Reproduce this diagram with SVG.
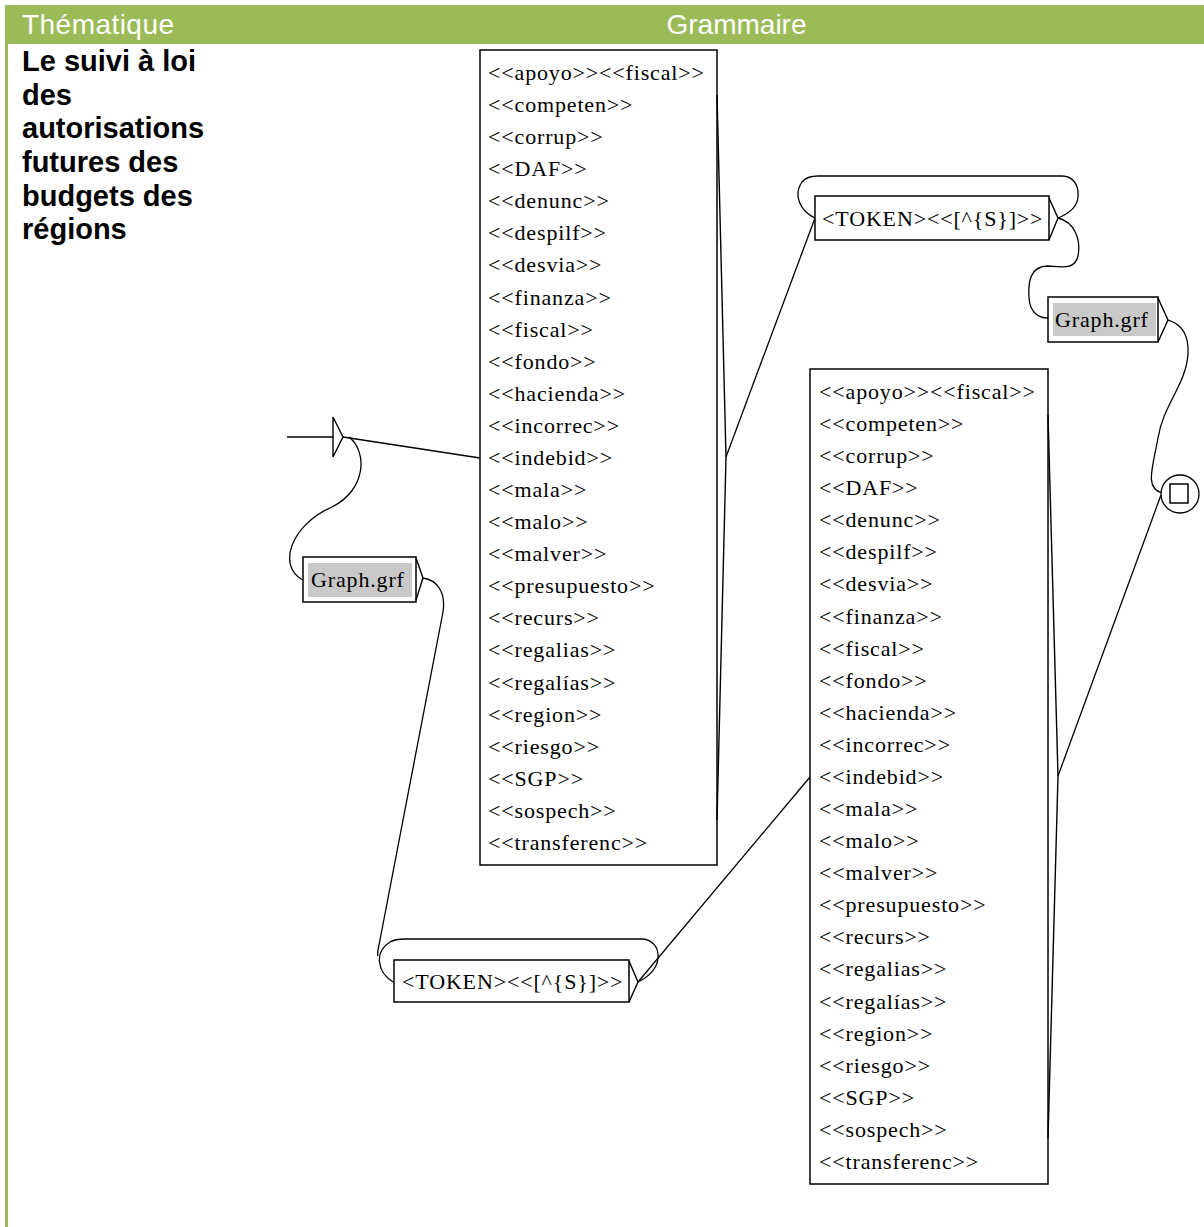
<svg xmlns="http://www.w3.org/2000/svg" width="1204" height="1227" viewBox="0 0 1204 1227">
  <style>
    .hdr { font-family: "Liberation Sans", Arial, sans-serif; font-size: 28px; fill: #ffffff; }
    .theme { font-family: "Liberation Sans", Arial, sans-serif; font-size: 29px; font-weight: bold; fill: #000000; }
    .lbl { font-family: "Liberation Serif", "Times New Roman", serif; font-size: 22px; letter-spacing: 0.85px; fill: #000000; }
    .box { fill: #ffffff; stroke: #000000; stroke-width: 1.5; }
    .sub { fill: #c9c9c9; stroke: none; }
    .out { fill: none; stroke: #000000; stroke-width: 1.4; stroke-linejoin: miter; }
    .edge { fill: none; stroke: #000000; stroke-width: 1.3; }
  </style>

  <!-- table frame -->
  <g id="table">
    <rect x="5" y="5" width="1199" height="39" fill="#9bbb59"/>
    <rect x="5" y="44" width="3" height="1183" fill="#9bbb59"/>
    <text class="hdr" x="22" y="34" textLength="152">Thématique</text>
    <text class="hdr" x="736.5" y="34" text-anchor="middle">Grammaire</text>
    <text class="theme" x="22">
      <tspan x="22" y="71">Le suivi à loi</tspan>
      <tspan x="22" y="104.5">des</tspan>
      <tspan x="22" y="138">autorisations</tspan>
      <tspan x="22" y="172">futures des</tspan>
      <tspan x="22" y="205.5">budgets des</tspan>
      <tspan x="22" y="239">régions</tspan>
    </text>
  </g>

  <!-- transitions -->
  <g id="connectors">
    <!-- initial state to first list -->
    <line class="edge" x1="343" y1="437" x2="480" y2="458"/>
    <!-- initial state loop to left Graph.grf -->
    <path class="edge" d="M349,437 C368,452 366,490 332,507 C292,524 276,566 303,580"/>
    <!-- left Graph.grf to lower TOKEN -->
    <path class="edge" d="M423,578 C437,580 446,592 443,612 L379,945 C378,950 377,953 378,956"/>
    <!-- lower TOKEN self loop -->
    <path class="edge" d="M393,982 C377,972 374,952 390,942 C395,939 400,939 405,939 L641,939 C652,939 659,947 658,958 C657,970 648,977 638,982"/>
    <!-- lower TOKEN to second list -->
    <line class="edge" x1="638" y1="982" x2="810" y2="777"/>
    <!-- first list to upper TOKEN -->
    <line class="edge" x1="726" y1="457" x2="815" y2="218"/>
    <!-- upper TOKEN self loop -->
    <path class="edge" d="M815,218 C800,211 793,195 802,182 C806,177 811,176 818,176 L1062,176 C1073,176 1079,185 1078,197 C1077,208 1068,214 1058,218"/>
    <!-- upper TOKEN to right Graph.grf -->
    <path class="edge" d="M1058,218 C1075,222 1081,240 1078,256 C1075,270 1062,267 1048,266 C1030,266 1028,282 1029,298 C1030,312 1038,318 1048,318"/>
    <!-- right Graph.grf to final state -->
    <path class="edge" d="M1168,320 C1182,324 1189,336 1188,354 C1186,385 1163,405 1158,438 C1152,470 1145,488 1162,493"/>
    <!-- second list to final state -->
    <line class="edge" x1="1058" y1="776" x2="1161" y2="495"/>
  </g>

  <!-- initial state -->
  <g id="initial">
    <line class="edge" x1="287" y1="437" x2="333" y2="437"/>
    <path class="out" d="M333,417 L343,437 L333,457 Z"/>
  </g>

  <!-- first list of lexical masks -->
  <g id="list1">
    <rect class="box" x="480" y="50" width="237" height="815"/>
    <path class="out" d="M717,95 L726,457 L717,820"/>
    <text class="lbl">
      <tspan x="488" y="80">&lt;&lt;apoyo&gt;&gt;&lt;&lt;fiscal&gt;&gt;</tspan>
      <tspan x="488" dy="32.08">&lt;&lt;competen&gt;&gt;</tspan>
      <tspan x="488" dy="32.08">&lt;&lt;corrup&gt;&gt;</tspan>
      <tspan x="488" dy="32.08">&lt;&lt;DAF&gt;&gt;</tspan>
      <tspan x="488" dy="32.08">&lt;&lt;denunc&gt;&gt;</tspan>
      <tspan x="488" dy="32.08">&lt;&lt;despilf&gt;&gt;</tspan>
      <tspan x="488" dy="32.08">&lt;&lt;desvia&gt;&gt;</tspan>
      <tspan x="488" dy="32.08">&lt;&lt;finanza&gt;&gt;</tspan>
      <tspan x="488" dy="32.08">&lt;&lt;fiscal&gt;&gt;</tspan>
      <tspan x="488" dy="32.08">&lt;&lt;fondo&gt;&gt;</tspan>
      <tspan x="488" dy="32.08">&lt;&lt;hacienda&gt;&gt;</tspan>
      <tspan x="488" dy="32.08">&lt;&lt;incorrec&gt;&gt;</tspan>
      <tspan x="488" dy="32.08">&lt;&lt;indebid&gt;&gt;</tspan>
      <tspan x="488" dy="32.08">&lt;&lt;mala&gt;&gt;</tspan>
      <tspan x="488" dy="32.08">&lt;&lt;malo&gt;&gt;</tspan>
      <tspan x="488" dy="32.08">&lt;&lt;malver&gt;&gt;</tspan>
      <tspan x="488" dy="32.08">&lt;&lt;presupuesto&gt;&gt;</tspan>
      <tspan x="488" dy="32.08">&lt;&lt;recurs&gt;&gt;</tspan>
      <tspan x="488" dy="32.08">&lt;&lt;regalias&gt;&gt;</tspan>
      <tspan x="488" dy="32.08">&lt;&lt;regalías&gt;&gt;</tspan>
      <tspan x="488" dy="32.08">&lt;&lt;region&gt;&gt;</tspan>
      <tspan x="488" dy="32.08">&lt;&lt;riesgo&gt;&gt;</tspan>
      <tspan x="488" dy="32.08">&lt;&lt;SGP&gt;&gt;</tspan>
      <tspan x="488" dy="32.08">&lt;&lt;sospech&gt;&gt;</tspan>
      <tspan x="488" dy="32.08">&lt;&lt;transferenc&gt;&gt;</tspan>
    </text>
  </g>

  <!-- left subgraph call -->
  <g id="graph-left">
    <rect class="box" x="303" y="557" width="113" height="45"/>
    <rect class="sub" x="308" y="563" width="104" height="34"/>
    <path class="out" d="M416,558 L423,578 L416,600"/>
    <text class="lbl" x="311" y="587">Graph.grf</text>
  </g>

  <!-- lower token box -->
  <g id="token-lower">
    <rect class="box" x="394" y="960" width="235" height="42"/>
    <path class="out" d="M629,961 L638,982 L629,1002"/>
    <text class="lbl" x="402" y="989">&lt;TOKEN&gt;&lt;&lt;[^{S}]&gt;&gt;</text>
  </g>

  <!-- upper token box -->
  <g id="token-upper">
    <rect class="box" x="815" y="196" width="234" height="44"/>
    <path class="out" d="M1049,198 L1058,218 L1049,240"/>
    <text class="lbl" x="822" y="226">&lt;TOKEN&gt;&lt;&lt;[^{S}]&gt;&gt;</text>
  </g>

  <!-- right subgraph call -->
  <g id="graph-right">
    <rect class="box" x="1048" y="297" width="110" height="45"/>
    <rect class="sub" x="1053" y="303" width="103" height="33"/>
    <path class="out" d="M1158,298 L1168,320 L1158,342"/>
    <text class="lbl" x="1055" y="327">Graph.grf</text>
  </g>

  <!-- second list of lexical masks -->
  <g id="list2">
    <rect class="box" x="810" y="369" width="238" height="815"/>
    <path class="out" d="M1048,415 L1058,776 L1048,1138"/>
    <text class="lbl">
      <tspan x="819" y="399">&lt;&lt;apoyo&gt;&gt;&lt;&lt;fiscal&gt;&gt;</tspan>
      <tspan x="819" dy="32.08">&lt;&lt;competen&gt;&gt;</tspan>
      <tspan x="819" dy="32.08">&lt;&lt;corrup&gt;&gt;</tspan>
      <tspan x="819" dy="32.08">&lt;&lt;DAF&gt;&gt;</tspan>
      <tspan x="819" dy="32.08">&lt;&lt;denunc&gt;&gt;</tspan>
      <tspan x="819" dy="32.08">&lt;&lt;despilf&gt;&gt;</tspan>
      <tspan x="819" dy="32.08">&lt;&lt;desvia&gt;&gt;</tspan>
      <tspan x="819" dy="32.08">&lt;&lt;finanza&gt;&gt;</tspan>
      <tspan x="819" dy="32.08">&lt;&lt;fiscal&gt;&gt;</tspan>
      <tspan x="819" dy="32.08">&lt;&lt;fondo&gt;&gt;</tspan>
      <tspan x="819" dy="32.08">&lt;&lt;hacienda&gt;&gt;</tspan>
      <tspan x="819" dy="32.08">&lt;&lt;incorrec&gt;&gt;</tspan>
      <tspan x="819" dy="32.08">&lt;&lt;indebid&gt;&gt;</tspan>
      <tspan x="819" dy="32.08">&lt;&lt;mala&gt;&gt;</tspan>
      <tspan x="819" dy="32.08">&lt;&lt;malo&gt;&gt;</tspan>
      <tspan x="819" dy="32.08">&lt;&lt;malver&gt;&gt;</tspan>
      <tspan x="819" dy="32.08">&lt;&lt;presupuesto&gt;&gt;</tspan>
      <tspan x="819" dy="32.08">&lt;&lt;recurs&gt;&gt;</tspan>
      <tspan x="819" dy="32.08">&lt;&lt;regalias&gt;&gt;</tspan>
      <tspan x="819" dy="32.08">&lt;&lt;regalías&gt;&gt;</tspan>
      <tspan x="819" dy="32.08">&lt;&lt;region&gt;&gt;</tspan>
      <tspan x="819" dy="32.08">&lt;&lt;riesgo&gt;&gt;</tspan>
      <tspan x="819" dy="32.08">&lt;&lt;SGP&gt;&gt;</tspan>
      <tspan x="819" dy="32.08">&lt;&lt;sospech&gt;&gt;</tspan>
      <tspan x="819" dy="32.08">&lt;&lt;transferenc&gt;&gt;</tspan>
    </text>
  </g>

  <!-- final state -->
  <g id="final">
    <circle cx="1180" cy="494" r="19" fill="#ffffff" stroke="#000000" stroke-width="1.3"/>
    <rect x="1170" y="484" width="18" height="19" fill="none" stroke="#000000" stroke-width="1.5"/>
  </g>
</svg>
